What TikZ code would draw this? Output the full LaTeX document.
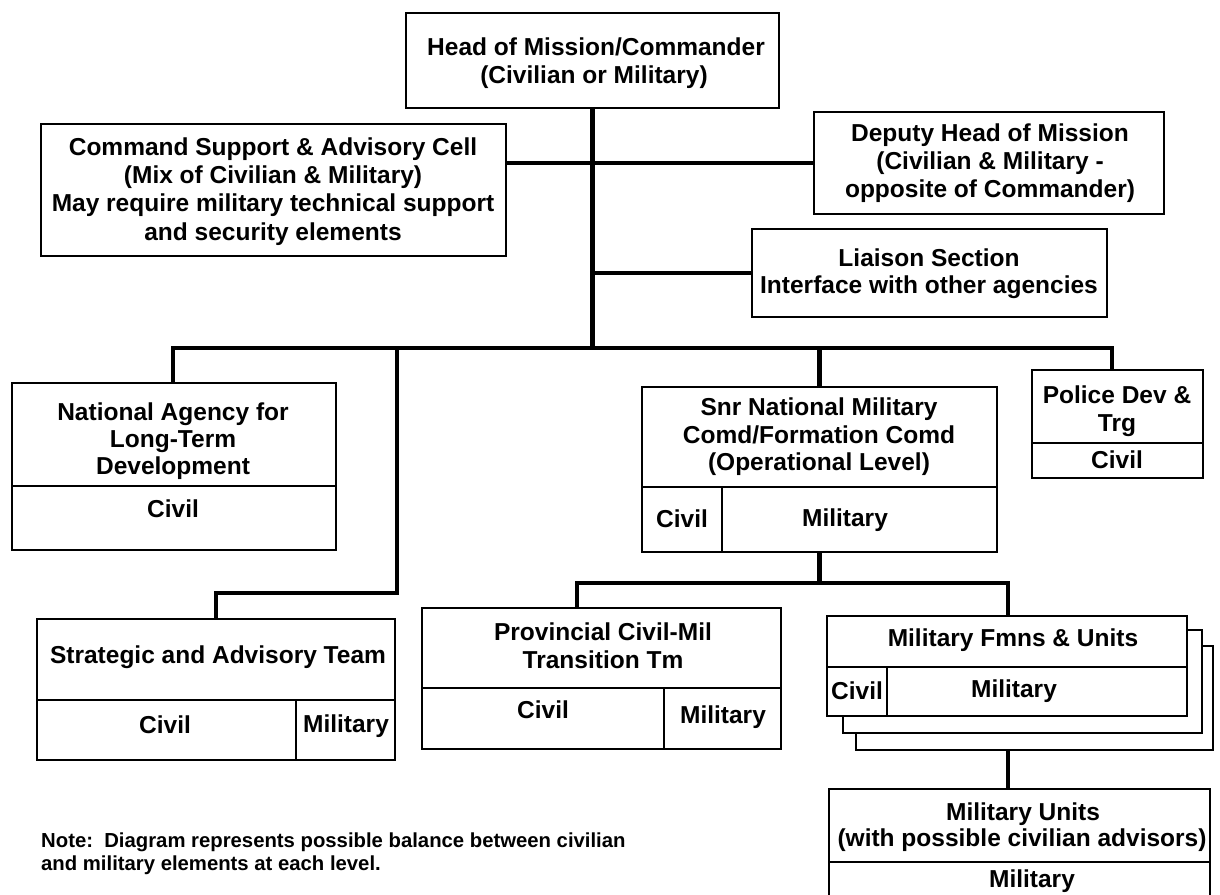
\documentclass[tikz,border=0pt]{standalone}
\usepackage{fontspec}
\setmainfont{Liberation Sans}
\newcommand\cellbox[5]{\node[box,minimum width={#4-#2},minimum height={#5-#3}] (#1) at (#2,#3) {};}
\begin{document}
\begin{tikzpicture}[x=1pt,y=-1pt,
  box/.style={draw,line width=2.6pt,fill=white,inner sep=0pt,outer sep=0pt,anchor=north west},
  conn/.style={line width=4.5pt,line join=miter},
  lbl/.style={font=\bfseries\fontsize{24.5}{28}\selectfont,anchor=base,inner sep=0pt},
  notetxt/.style={font=\bfseries\fontsize{20.3}{23}\selectfont,anchor=base west,inner sep=0pt}]
\useasboundingbox (0,0) rectangle (1220,894);
\fill[white] (0,0) rectangle (1220,894);
\clip (0,0) rectangle (1220,894);

% junction coordinates
\coordinate (j1) at (592,163);
\coordinate (j2) at (592,273);
\coordinate (busL) at (173,348);
\coordinate (busR) at (1112,348);
\coordinate (s1) at (397,593);
\coordinate (b2L) at (577,583);
\coordinate (b2R) at (1008,583);

% boxes
\cellbox{head}{406}{13}{779}{108}
\cellbox{cs}{41}{124}{506}{256}
\cellbox{dep}{814}{112}{1164}{214}
\cellbox{lia}{752}{229}{1107}{317}
\cellbox{naT}{12}{383}{336}{486}
\cellbox{naB}{12}{486}{336}{550}
\cellbox{satT}{37}{619}{395}{700}
\cellbox{satC}{37}{700}{296}{760}
\cellbox{satM}{296}{700}{395}{760}
\cellbox{snrT}{642}{387}{997}{487}
\cellbox{snrC}{642}{487}{722}{552}
\cellbox{snrM}{722}{487}{997}{552}
\cellbox{polT}{1032}{370}{1203}{443}
\cellbox{polB}{1032}{443}{1203}{478}
\cellbox{prT}{422}{608}{781}{688}
\cellbox{prC}{422}{688}{664}{749}
\cellbox{prM}{664}{688}{781}{749}
\cellbox{sh2}{856}{646}{1213}{750}
\cellbox{sh1}{843}{630}{1202}{733}
\cellbox{fmT}{827}{616}{1187}{667}
\cellbox{fmC}{827}{667}{887}{716}
\cellbox{fmM}{887}{667}{1187}{716}
\cellbox{muT}{829}{789}{1210}{862}
\cellbox{muB}{829}{862}{1210}{930}

% connectors
\draw[conn] (head.south) -- (head.south |- busL);
\draw[conn] (cs.east |- j1) -- (dep.west |- j1);
\draw[conn] (j2) -- (lia.west |- j2);
\draw[conn] (busL |- naT.north) -- (busL) -- (busR) -- (busR |- polT.north);
\draw[conn] (snrT.north |- busL) -- (snrT.north);
\draw[conn] (s1 |- busL) -- (s1) -- (satT.north |- s1) -- (satT.north);
\draw[conn] (snrT.south |- snrM.south) -- (snrT.south |- b2L);
\draw[conn] (b2L |- prT.north) -- (b2L) -- (b2R) -- (b2R |- fmT.north);
\draw[conn] (b2R |- sh2.south) -- (b2R |- muT.north);

% labels
\node[lbl] (t1) at (596,55) {Head of Mission/Commander};
\node[lbl] (t2) at (594,83) {(Civilian or Military)};
\node[lbl] (t3) at (273,155) {Command Support \& Advisory Cell};
\node[lbl] (t4) at (273,183) {(Mix of Civilian \& Military)};
\node[lbl] (t5) at (273,211) {May require military technical support};
\node[lbl] (t6) at (273,240) {and security elements};
\node[lbl] (t7) at (990,141) {Deputy Head of Mission};
\node[lbl] (t8) at (990,169) {(Civilian \& Military -};
\node[lbl] (t9) at (990,197) {opposite of Commander)};
\node[lbl] (t10) at (929,266) {Liaison Section};
\node[lbl] (t11) at (929,293) {Interface with other agencies};
\node[lbl] (t12) at (173,420) {National Agency for};
\node[lbl] (t13) at (173,447) {Long-Term};
\node[lbl] (t14) at (173,474) {Development};
\node[lbl] (t15) at (173,517) {Civil};
\node[lbl] (t16) at (218,663) {Strategic and Advisory Team};
\node[lbl] (t17) at (165,733) {Civil};
\node[lbl] (t18) at (346,732) {Military};
\node[lbl] (t19) at (819,415) {Snr National Military};
\node[lbl] (t20) at (819,443) {Comd/Formation Comd};
\node[lbl] (t21) at (819,470) {(Operational Level)};
\node[lbl] (t22) at (682,527) {Civil};
\node[lbl] (t23) at (845,526) {Military};
\node[lbl] (t24) at (1117,403) {Police Dev \&};
\node[lbl] (t25) at (1117,431) {Trg};
\node[lbl] (t26) at (1117,468) {Civil};
\node[lbl] (t27) at (603,640) {Provincial Civil-Mil};
\node[lbl] (t28) at (603,668) {Transition Tm};
\node[lbl] (t29) at (543,718) {Civil};
\node[lbl] (t30) at (723,723) {Military};
\node[lbl] (t31) at (1013,646) {Military Fmns \& Units};
\node[lbl] (t32) at (857,699) {Civil};
\node[lbl] (t33) at (1014,697) {Military};
\node[lbl] (t34) at (1023,820) {Military Units};
\node[lbl] (t35) at (1022,846) {(with possible civilian advisors)};
\node[lbl] (t36) at (1032,887) {Military};
\node[notetxt] (n1) at (41,847) {Note:\ \ Diagram represents possible balance between civilian};
\node[notetxt] (n2) at (41,870) {and military elements at each level.};
\end{tikzpicture}
\end{document}
